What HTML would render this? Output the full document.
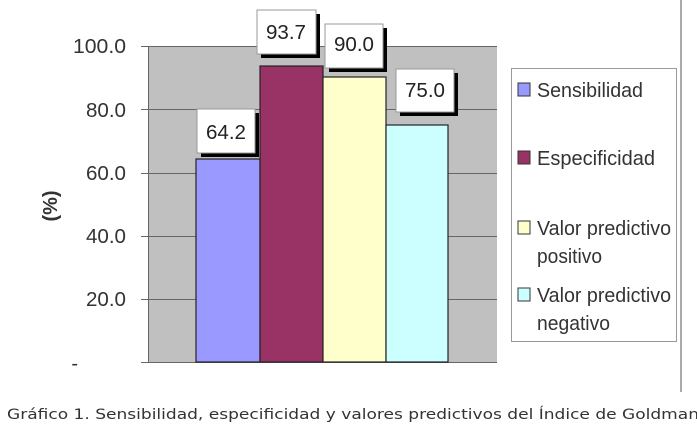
<!DOCTYPE html>
<html><head><meta charset="utf-8"><style>
html,body{margin:0;padding:0;background:#fff;overflow:hidden}
</style></head><body>
<svg width="697" height="430" xmlns="http://www.w3.org/2000/svg" font-family="Liberation Sans, sans-serif">
<rect x="0" y="0" width="697" height="430" fill="#fff"/>
<line x1="681" y1="0" x2="681" y2="392" stroke="#555" stroke-width="1"/>
<rect x="148" y="46" width="349" height="316" fill="#c0c0c0"/>
<g stroke="#666" stroke-width="1">
<line x1="141" y1="46.5" x2="497" y2="46.5"/>
<line x1="141" y1="109.5" x2="497" y2="109.5"/>
<line x1="141" y1="173.5" x2="497" y2="173.5"/>
<line x1="141" y1="236.5" x2="497" y2="236.5"/>
<line x1="141" y1="299.5" x2="497" y2="299.5"/>
<line x1="141" y1="362.5" x2="497" y2="362.5"/>
<line x1="148.5" y1="46" x2="148.5" y2="362"/>
</g>
<g stroke="#222" stroke-width="1.2">
<rect x="196" y="159" width="64" height="203" fill="#9999ff"/>
<rect x="260" y="66" width="63" height="296" fill="#993366"/>
<rect x="323" y="77" width="63" height="285" fill="#ffffcc"/>
<rect x="386" y="125" width="62" height="237" fill="#ccffff"/>
</g>
<g font-size="20" fill="#222" text-anchor="middle">
<rect x="201" y="113" width="58" height="44" fill="#000"/>
<rect x="197" y="109" width="58" height="44" fill="#fff" stroke="#999"/>
<text x="226" y="139" textLength="40" lengthAdjust="spacingAndGlyphs">64.2</text>
<rect x="261" y="14" width="59" height="44" fill="#000"/>
<rect x="257" y="10" width="59" height="44" fill="#fff" stroke="#999"/>
<text x="286" y="39" textLength="40" lengthAdjust="spacingAndGlyphs">93.7</text>
<rect x="329" y="28" width="58" height="44" fill="#000"/>
<rect x="325" y="24" width="58" height="44" fill="#fff" stroke="#999"/>
<text x="354" y="51" textLength="40" lengthAdjust="spacingAndGlyphs">90.0</text>
<rect x="400" y="73" width="58" height="43" fill="#000"/>
<rect x="396" y="69" width="58" height="43" fill="#fff" stroke="#999"/>
<text x="425" y="97" textLength="40" lengthAdjust="spacingAndGlyphs">75.0</text>
</g>
<g font-size="20" fill="#333" text-anchor="end">
<text x="126" y="53" textLength="53" lengthAdjust="spacingAndGlyphs">100.0</text>
<text x="126" y="117" textLength="40" lengthAdjust="spacingAndGlyphs">80.0</text>
<text x="126" y="180" textLength="40" lengthAdjust="spacingAndGlyphs">60.0</text>
<text x="126" y="243" textLength="40" lengthAdjust="spacingAndGlyphs">40.0</text>
<text x="126" y="306" textLength="40" lengthAdjust="spacingAndGlyphs">20.0</text>
<text x="78" y="370">-</text>
</g>
<text transform="translate(57,206) rotate(-90)" font-size="20" font-weight="bold" fill="#333" text-anchor="middle">(%)</text>
<rect x="511.5" y="68.5" width="165" height="273" fill="#fff" stroke="#999"/>
<g stroke="#333" stroke-width="1">
<rect x="518" y="83" width="12" height="13" fill="#9999ff"/>
<rect x="518" y="151" width="12" height="13" fill="#993366"/>
<rect x="518" y="221" width="12" height="13" fill="#ffffcc"/>
<rect x="518" y="288" width="12" height="13" fill="#ccffff"/>
</g>
<g font-size="20" fill="#333">
<text x="537" y="97" textLength="106" lengthAdjust="spacingAndGlyphs">Sensibilidad</text>
<text x="537" y="165" textLength="118" lengthAdjust="spacingAndGlyphs">Especificidad</text>
<text x="537" y="235" textLength="134" lengthAdjust="spacingAndGlyphs">Valor predictivo</text>
<text x="537" y="263" textLength="65" lengthAdjust="spacingAndGlyphs">positivo</text>
<text x="537" y="302" textLength="134" lengthAdjust="spacingAndGlyphs">Valor predictivo</text>
<text x="537" y="330" textLength="73" lengthAdjust="spacingAndGlyphs">negativo</text>
</g>
<text x="7" y="419" font-family="DejaVu Sans, sans-serif" font-size="14" fill="#333" textLength="692" lengthAdjust="spacingAndGlyphs">Gráfico 1. Sensibilidad, especificidad y valores predictivos del Índice de Goldman</text>
</svg>
</body></html>
